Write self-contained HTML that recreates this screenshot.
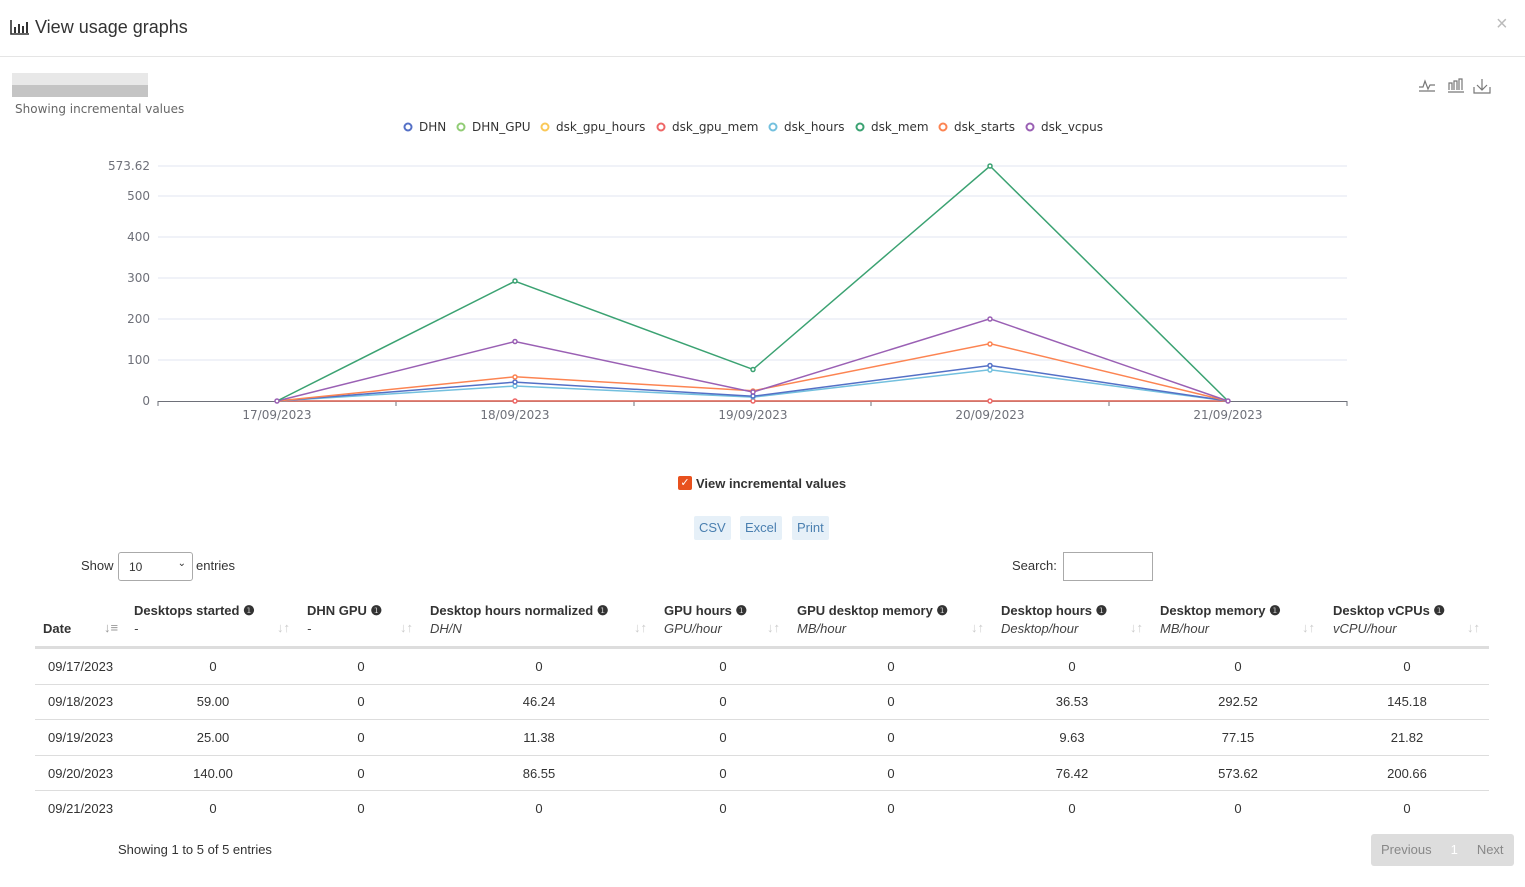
<!DOCTYPE html>
<html><head><meta charset="utf-8"><style>
*{margin:0;padding:0;box-sizing:border-box}
body{width:1525px;height:887px;background:#fff;font-family:"Liberation Sans",sans-serif;position:relative;overflow:hidden;color:#333}
.a{position:absolute;white-space:nowrap}
.h{font-weight:bold;font-size:13px;color:#333}
.s{font-size:13px;font-style:italic;color:#444}
.c{font-size:13px;color:#333;transform:translateX(-50%)}
.ar{color:#ccc;font-size:13px}
.hl{position:absolute;left:35px;width:1454px;height:1px;background:#ddd}
.btn{position:absolute;top:516px;height:24px;background:#e6f0f8;color:#4a7fb0;font-size:13px;line-height:24px;padding:0 5px;border-radius:2px}
</style></head><body>
<div class="a" style="left:10px;top:17px;font-size:18px;color:#333">
<svg width="20" height="16" style="vertical-align:-2px"><path d="M1 1V15H19" stroke="#333" stroke-width="1.6" fill="none"/><rect x="4" y="8" width="2" height="6" fill="#333"/><rect x="8" y="5" width="2" height="9" fill="#333"/><rect x="12" y="7" width="2" height="7" fill="#333"/><rect x="16" y="3" width="2" height="11" fill="#333"/></svg> View usage graphs</div>
<div class="a" style="left:1496px;top:13px;font-size:20px;color:#bbb">×</div>
<div class="a" style="left:0;top:56px;width:1525px;height:1px;background:#e5e5e5"></div>
<div class="a" style="left:12px;top:73px;width:136px;height:24px;background:linear-gradient(#e8e8e8 50%,#c4c4c4 50%)"></div>
<div class="a" style="left:15px;top:102px;font-size:12px;color:#666;font-family:'DejaVu Sans',sans-serif">Showing incremental values</div>
<svg class="a" style="left:1417px;top:77px" width="80" height="20"><path d="M2 14H18M2 10H6L8 4L11 12L13 8H18" stroke="#777" fill="none" stroke-width="1.2"/><path d="M31 15H47M32 13V6H35V13M37 13V4H40V13M42 13V2H45V13" stroke="#777" fill="none" stroke-width="1.2"/><path d="M57 10V16H73V10M65 2V13M60 8L65 13L70 8" stroke="#777" fill="none" stroke-width="1.2"/></svg>
<svg class="a" style="left:0;top:0" width="1525" height="440" font-family="DejaVu Sans" font-size="12" fill="#6e7079">
<g fill="#fff" stroke-width="2">
<circle cx="408" cy="127" r="3.5" stroke="#5470c6"/><circle cx="461" cy="127" r="3.5" stroke="#91cc75"/><circle cx="545" cy="127" r="3.5" stroke="#fac858"/><circle cx="661" cy="127" r="3.5" stroke="#ee6666"/><circle cx="773" cy="127" r="3.5" stroke="#73c0de"/><circle cx="860" cy="127" r="3.5" stroke="#3ba272"/><circle cx="943" cy="127" r="3.5" stroke="#fc8452"/><circle cx="1030" cy="127" r="3.5" stroke="#9a60b4"/></g>
<g fill="#333"><text x="419" y="131">DHN</text><text x="472" y="131">DHN_GPU</text><text x="556" y="131">dsk_gpu_hours</text><text x="672" y="131">dsk_gpu_mem</text><text x="784" y="131">dsk_hours</text><text x="871" y="131">dsk_mem</text><text x="954" y="131">dsk_starts</text><text x="1041" y="131">dsk_vcpus</text></g>
<g stroke="#e0e6f1"><line x1="158" x2="1347" y1="166" y2="166"/><line x1="158" x2="1347" y1="196" y2="196"/><line x1="158" x2="1347" y1="237" y2="237"/><line x1="158" x2="1347" y1="278" y2="278"/><line x1="158" x2="1347" y1="319" y2="319"/><line x1="158" x2="1347" y1="360" y2="360"/></g>
<line x1="158" x2="1347" y1="401.5" y2="401.5" stroke="#6e7079"/>
<g stroke="#6e7079"><line x1="158" x2="158" y1="401" y2="406"/><line x1="396" x2="396" y1="401" y2="406"/><line x1="634" x2="634" y1="401" y2="406"/><line x1="871" x2="871" y1="401" y2="406"/><line x1="1109" x2="1109" y1="401" y2="406"/><line x1="1347" x2="1347" y1="401" y2="406"/></g>
<g text-anchor="end"><text x="150" y="170">573.62</text><text x="150" y="200">500</text><text x="150" y="241">400</text><text x="150" y="282">300</text><text x="150" y="323">200</text><text x="150" y="364">100</text><text x="150" y="405">0</text></g>
<g text-anchor="middle"><text x="277" y="419">17/09/2023</text><text x="515" y="419">18/09/2023</text><text x="753" y="419">19/09/2023</text><text x="990" y="419">20/09/2023</text><text x="1228" y="419">21/09/2023</text></g>
<g fill="#fff" stroke-width="1.5">
<polyline points="277,401 515,401 753,401 990,401 1228,401" stroke="#91cc75" fill="none"/>
<polyline points="277,401 515,401 753,401 990,401 1228,401" stroke="#ee6666" fill="none"/>
<polyline points="277,401 515,386 753,397.1 990,369.7 1228,401" stroke="#73c0de" fill="none"/>
<polyline points="277,401 515,382.1 753,396.3 990,365.5 1228,401" stroke="#5470c6" fill="none"/>
<polyline points="277,401 515,376.8 753,390.8 990,343.6 1228,401" stroke="#fc8452" fill="none"/>
<polyline points="277,401 515,341.5 753,392.1 990,318.8 1228,401" stroke="#9a60b4" fill="none"/>
<polyline points="277,401 515,281.2 753,369.4 990,166 1228,401" stroke="#3ba272" fill="none"/>
<g stroke="#ee6666"><circle cx="515" cy="401" r="2"/><circle cx="753" cy="401" r="2"/><circle cx="990" cy="401" r="2"/></g>
<g stroke="#73c0de"><circle cx="515" cy="386" r="2"/><circle cx="753" cy="397" r="2"/><circle cx="990" cy="370" r="2"/></g>
<g stroke="#5470c6"><circle cx="515" cy="382" r="2"/><circle cx="753" cy="396" r="2"/><circle cx="990" cy="365.5" r="2"/></g>
<g stroke="#fc8452"><circle cx="515" cy="377" r="2"/><circle cx="753" cy="391" r="2"/><circle cx="990" cy="344" r="2"/></g>
<g stroke="#9a60b4"><circle cx="515" cy="341.5" r="2"/><circle cx="753" cy="392" r="2"/><circle cx="990" cy="319" r="2"/><circle cx="277" cy="401" r="2"/><circle cx="1228" cy="401" r="2"/></g>
<g stroke="#3ba272"><circle cx="515" cy="281" r="2"/><circle cx="753" cy="369.5" r="2"/><circle cx="990" cy="166" r="2"/></g>
</g></svg>
<div class="a" style="left:678px;top:476px;width:14px;height:14px;background:#e8511e;border-radius:2px;color:#fff;font-size:11px;line-height:14px;text-align:center">✓</div>
<div class="a" style="left:696px;top:476px;font-size:13px;font-weight:bold;color:#333">View incremental values</div>
<div class="btn" style="left:694px">CSV</div><div class="btn" style="left:740px">Excel</div><div class="btn" style="left:792px">Print</div>
<div class="a" style="left:81px;top:558px;font-size:13px">Show</div>
<div class="a" style="left:118px;top:552px;width:75px;height:29px;border:1px solid #aaa;border-radius:3px;font-size:12px;padding:7px 10px">10<span style="position:absolute;right:6px;top:5px;font-size:10px">⌄</span></div>
<div class="a" style="left:196px;top:558px;font-size:13px">entries</div>
<div class="a" style="left:1012px;top:558px;font-size:13px">Search:</div>
<div class="a" style="left:1063px;top:552px;width:90px;height:29px;border:1px solid #aaa"></div>
<div class="a h" style="left:43px;top:621px">Date</div><div class="a ar" style="left:104px;top:620px;color:#999">↓≡</div>
<div class="a h" style="left:134px;top:603px">Desktops started ❶</div><div class="a s" style="left:134px;top:621px">-</div><div class="a ar" style="left:277px;top:620px">↓↑</div>
<div class="a h" style="left:307px;top:603px">DHN GPU ❶</div><div class="a s" style="left:307px;top:621px">-</div><div class="a ar" style="left:400px;top:620px">↓↑</div>
<div class="a h" style="left:430px;top:603px">Desktop hours normalized ❶</div><div class="a s" style="left:430px;top:621px">DH/N</div><div class="a ar" style="left:634px;top:620px">↓↑</div>
<div class="a h" style="left:664px;top:603px">GPU hours ❶</div><div class="a s" style="left:664px;top:621px">GPU/hour</div><div class="a ar" style="left:767px;top:620px">↓↑</div>
<div class="a h" style="left:797px;top:603px">GPU desktop memory ❶</div><div class="a s" style="left:797px;top:621px">MB/hour</div><div class="a ar" style="left:971px;top:620px">↓↑</div>
<div class="a h" style="left:1001px;top:603px">Desktop hours ❶</div><div class="a s" style="left:1001px;top:621px">Desktop/hour</div><div class="a ar" style="left:1130px;top:620px">↓↑</div>
<div class="a h" style="left:1160px;top:603px">Desktop memory ❶</div><div class="a s" style="left:1160px;top:621px">MB/hour</div><div class="a ar" style="left:1302px;top:620px">↓↑</div>
<div class="a h" style="left:1333px;top:603px">Desktop vCPUs ❶</div><div class="a s" style="left:1333px;top:621px">vCPU/hour</div><div class="a ar" style="left:1467px;top:620px">↓↑</div>
<div class="hl" style="top:646px;height:3px;background:#ddd"></div>
<div class="hl" style="top:684px"></div><div class="hl" style="top:719px"></div><div class="hl" style="top:755px"></div><div class="hl" style="top:790px"></div>
<div id="rows"></div>
<div class="a" style="left:118px;top:842px;font-size:13px">Showing 1 to 5 of 5 entries</div>
<div class="a" style="left:1371px;top:834px;width:143px;height:32px;background:#ddd;border-radius:3px;font-size:13px;color:#888;line-height:32px"><span style="margin-left:10px">Previous</span><span style="margin-left:19px;color:#fff">1</span><span style="margin-left:19px">Next</span></div>
<script>
var d=[["09/17/2023","0","0","0","0","0","0","0","0"],["09/18/2023","59.00","0","46.24","0","0","36.53","292.52","145.18"],["09/19/2023","25.00","0","11.38","0","0","9.63","77.15","21.82"],["09/20/2023","140.00","0","86.55","0","0","76.42","573.62","200.66"],["09/21/2023","0","0","0","0","0","0","0","0"]];
var xs=[213,361,539,723,891,1072,1238,1407],ys=[659,694,730,766,801],h="";
d.forEach(function(r,i){h+='<div class="a" style="left:48px;top:'+ys[i]+'px;font-size:13px">'+r[0]+'</div>';for(var j=1;j<9;j++)h+='<div class="a c" style="left:'+xs[j-1]+'px;top:'+ys[i]+'px">'+r[j]+'</div>';});
document.getElementById("rows").innerHTML=h;
</script>
</body></html>
